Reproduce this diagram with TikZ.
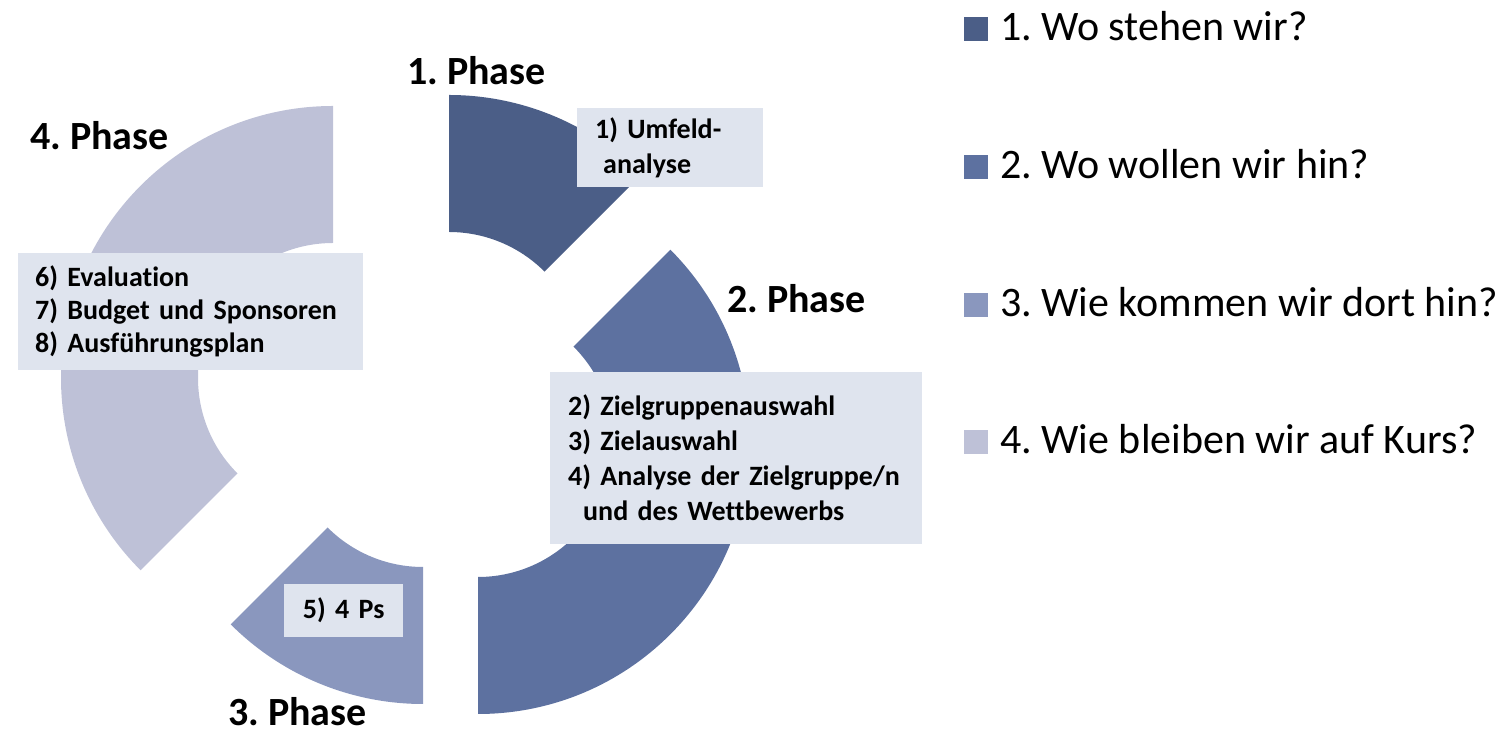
\documentclass[tikz,border=0pt]{standalone}
\usepackage{fontspec}
\setmainfont{Carlito}[Ligatures=NoCommon]
\frenchspacing
\definecolor{phaseA}{HTML}{4B5E87}
\definecolor{phaseB}{HTML}{5D71A0}
\definecolor{phaseC}{HTML}{8A97BE}
\definecolor{phaseD}{HTML}{BEC1D7}
\definecolor{boxfill}{HTML}{DFE4EE}

\begin{document}
\begin{tikzpicture}[x=1pt, y=1pt,
    phase/.style={font=\fontsize{40}{46}\selectfont\bfseries, inner sep=0pt, anchor=base west},
    infobox/.style={fill=boxfill, font=\fontsize{28}{35}\selectfont\bfseries, align=left,
      anchor=north west, inner xsep=18pt, inner ysep=0pt},
    legbox/.style={minimum size=24pt, inner sep=0pt, anchor=south west},
    legtext/.style={font=\fontsize{42}{50}\selectfont, inner sep=0pt, anchor=base west}]
  \useasboundingbox (0,0) rectangle (1512,733);
  % ring pieces
  \fill[phaseA, shift={(449,366)}] (45:272) arc[start angle=45, end angle=90, radius=272]
    -- (90:135) arc[start angle=90, end angle=45, radius=135] -- cycle;
  \fill[phaseB, shift={(478,291)}] (-90:272) arc[start angle=-90, end angle=45, radius=272]
    -- (45:135) arc[start angle=45, end angle=-90, radius=135] -- cycle;
  \fill[phaseC, shift={(423,301)}] (225:272) arc[start angle=225, end angle=270, radius=272]
    -- (270:135) arc[start angle=270, end angle=225, radius=135] -- cycle;
  \fill[phaseD, shift={(333,355)}] (90:272) arc[start angle=90, end angle=225, radius=272]
    -- (225:135) arc[start angle=225, end angle=90, radius=135] -- cycle;
  % boxes
  \node[infobox, text width=150pt, minimum height=79pt] (b1) at (577,625)
    {1) Umfeld-\\\hspace*{8pt}analyse};
  \node[infobox, text width=336pt, minimum height=172pt] (b2) at (550,361)
    {2) Zielgruppenauswahl\\3) Zielauswahl\\4) Analyse der Zielgruppe/n\\\hspace*{15pt}und des Wettbewerbs};
  \node[infobox, text width=83pt, minimum height=53pt, align=center] (b3) at (284,149) {5) 4 Ps};
  \node[infobox, inner xsep=17pt, text width=311pt, minimum height=117pt,
    font=\fontsize{28}{33}\selectfont\bfseries] (b4) at (18,480)
    {6) Evaluation\\7) Budget und Sponsoren\\8) Ausführungsplan};
  % phase titles
  \node[phase] (p1) at (407,648) {1. Phase};
  \node[phase] (p2) at (727,420) {2. Phase};
  \node[phase] (p3) at (228,7) {3. Phase};
  \node[phase] (p4) at (30,583) {4. Phase};
  % legend
  \node[legbox, fill=phaseA] (l1) at (964,692) {};
  \node[legtext] (t1) at (1000,692) {1. Wo stehen wir?};
  \node[legbox, fill=phaseB] (l2) at (964,554) {};
  \node[legtext] (t2) at (1000,554) {2. Wo wollen wir hin?};
  \node[legbox, fill=phaseC] (l3) at (964,416) {};
  \node[legtext] (t3) at (1000,416) {3. Wie kommen wir dort hin?};
  \node[legbox, fill=phaseD] (l4) at (964,279) {};
  \node[legtext] (t4) at (1000,279) {4. Wie bleiben wir auf Kurs?};
\end{tikzpicture}
\end{document}
